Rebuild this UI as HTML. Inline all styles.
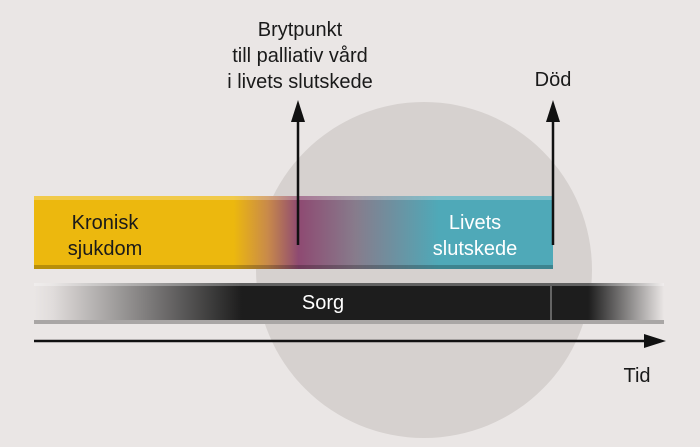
<!DOCTYPE html>
<html><head><meta charset="utf-8"><style>
body{margin:0;width:700px;height:447px;background:#EAE6E5;overflow:hidden;position:relative;font-family:"Liberation Sans",sans-serif}
.t{position:absolute;font-size:20px;color:#1a1a1a;text-align:center;line-height:26px}
</style></head><body>
<svg width="700" height="447" style="position:absolute;left:0;top:0">
<defs>
<linearGradient id="g1" x1="34" x2="553" gradientUnits="userSpaceOnUse">
<stop offset="0" stop-color="#ECB80E"/><stop offset="0.385" stop-color="#ECB80E"/>
<stop offset="0.45" stop-color="#C98A4A"/><stop offset="0.51" stop-color="#8E4A72"/>
<stop offset="0.62" stop-color="#877C8C"/><stop offset="0.78" stop-color="#4FA9B8"/><stop offset="1" stop-color="#4FA9B8"/>
</linearGradient>
<linearGradient id="g2" x1="34" x2="664" gradientUnits="userSpaceOnUse">
<stop offset="0" stop-color="#EAE6E5"/><stop offset="0.03" stop-color="#E0DCDB"/>
<stop offset="0.33" stop-color="#1d1d1d"/><stop offset="0.88" stop-color="#1d1d1d"/>
<stop offset="1" stop-color="#EAE6E5"/>
</linearGradient>
</defs>
<circle cx="424" cy="270" r="168" fill="#D6D1CF"/>
<rect x="34" y="196" width="519" height="73" fill="url(#g1)"/>
<rect x="34" y="196" width="519" height="4" fill="#fff" opacity="0.25"/>
<rect x="34" y="265" width="519" height="4" fill="#000" opacity="0.22"/>
<rect x="34" y="283" width="630" height="41" fill="url(#g2)"/>
<rect x="34" y="283" width="630" height="3" fill="#fff" opacity="0.3"/>
<rect x="34" y="320" width="630" height="4" fill="#A9A6A5"/>
<line x1="551" y1="286" x2="551" y2="320" stroke="#aaa" stroke-width="1"/>
<line x1="298" y1="245" x2="298" y2="118" stroke="#111" stroke-width="2.5"/>
<polygon points="298,100 291,122 305,122" fill="#111"/>
<line x1="553" y1="245" x2="553" y2="118" stroke="#111" stroke-width="2.5"/>
<polygon points="553,100 546,122 560,122" fill="#111"/>
<line x1="34" y1="341" x2="648" y2="341" stroke="#111" stroke-width="2.5"/>
<polygon points="666,341 644,334 644,348" fill="#111"/>
</svg>
<div class="t" style="left:190px;top:17px;width:220px">Brytpunkt<br>till palliativ vård<br>i livets slutskede</div>
<div class="t" style="left:513px;top:67px;width:80px">Död</div>
<div class="t" style="left:40px;top:210px;width:130px">Kronisk<br>sjukdom</div>
<div class="t" style="left:410px;top:210px;width:130px;color:#fff">Livets<br>slutskede</div>
<div class="t" style="left:283px;top:290px;width:80px;color:#fff">Sorg</div>
<div class="t" style="left:602px;top:363px;width:70px">Tid</div>
</body></html>
